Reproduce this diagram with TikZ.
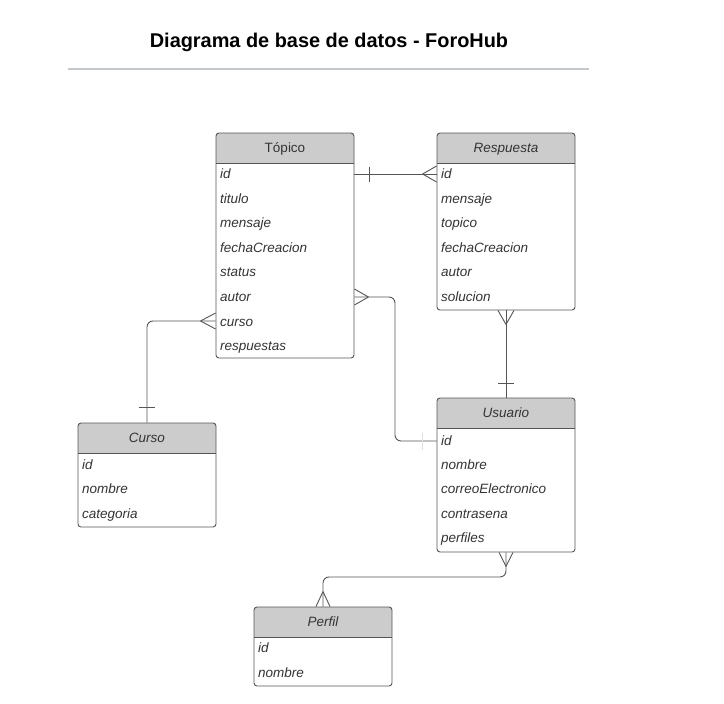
\documentclass[tikz,border=0pt]{standalone}
\usepackage{fontspec}
\setmainfont{Liberation Sans}
\usetikzlibrary{fit}
\definecolor{hdrgray}{HTML}{CCCCCC}
\definecolor{boxgray}{HTML}{555555}
\definecolor{txtgray}{HTML}{333333}
\definecolor{rulegray}{HTML}{C4C8CC}
\tikzset{
  tbox/.style={draw=boxgray, line width=0.9pt, rounded corners=3pt, inner sep=0pt},
  sepline/.style={draw=boxgray, line width=0.9pt},
  ttext/.style={font=\fontsize{13.5}{16}\selectfont\itshape, text=txtgray, inner sep=0pt, anchor=base},
  ttextup/.style={font=\fontsize{13.5}{16}\selectfont, text=txtgray, inner sep=0pt, anchor=base},
  rowtext/.style={font=\fontsize{13.5}{16}\selectfont\itshape, text=txtgray, anchor=base west, inner sep=0pt},
  conn/.style={draw=boxgray, line width=0.9pt},
  faint/.style={draw=gray!25, line width=0.9pt},
}
\newcommand\ertab[6]{%
  \begin{scope}
    \clip (#2,#3) rectangle (#4,#6);
    \fill[hdrgray, rounded corners=3pt] (#2,#3) rectangle (#4,#5);
  \end{scope}
  \draw[sepline] (#2,#6) -- (#4,#6);
  \node[tbox, fit={(#2,#3) (#4,#5)}] (#1) {};
}
\begin{document}
\begin{tikzpicture}[x=1pt,y=-1pt]
\useasboundingbox (0,0) rectangle (724,704);

% title
\node[font=\fontsize{19.9}{24}\selectfont\bfseries, text=black, inner sep=0pt, anchor=base] (title) at (329,47.5) {Diagrama de base de datos - ForoHub};
\coordinate (ruleL) at (68,69);
\coordinate (ruleR) at (589,69);
\draw[rulegray, line width=1.2pt] (ruleL) -- (ruleR);

% Topico
\ertab{topico}{216}{133}{354}{358}{163}
\node[ttextup] (topico-t) at (285,152) {Tópico};
\node[rowtext] (t-id) at (220,178) {id};
\node[rowtext] (t-titulo) at (220,203) {titulo};
\node[rowtext] (t-mensaje) at (220,227) {mensaje};
\node[rowtext] (t-fecha) at (220,252) {fechaCreacion};
\node[rowtext] (t-status) at (220,276) {status};
\node[rowtext] (t-autor) at (220,301) {autor};
\node[rowtext] (t-curso) at (220,326) {curso};
\node[rowtext] (t-resp) at (220,350) {respuestas};

% Respuesta
\ertab{resp}{437}{133}{575}{310}{163}
\node[ttext] (resp-t) at (506,152) {Respuesta};
\node[rowtext] (r-id) at (441,178) {id};
\node[rowtext] (r-mensaje) at (441,203) {mensaje};
\node[rowtext] (r-topico) at (441,227) {topico};
\node[rowtext] (r-fecha) at (441,252) {fechaCreacion};
\node[rowtext] (r-autor) at (441,276) {autor};
\node[rowtext] (r-sol) at (441,301) {solucion};

% Usuario
\ertab{usuario}{437}{398}{575}{552}{428}
\node[ttext] (usuario-t) at (506,417) {Usuario};
\node[rowtext] (u-id) at (441,445) {id};
\node[rowtext] (u-nombre) at (441,469) {nombre};
\node[rowtext] (u-correo) at (441,493) {correoElectronico};
\node[rowtext] (u-contra) at (441,518) {contrasena};
\node[rowtext] (u-perfiles) at (441,542) {perfiles};

% Curso
\ertab{curso}{78}{423}{216}{527}{453}
\node[ttext] (curso-t) at (147,442) {Curso};
\node[rowtext] (c-id) at (82,469) {id};
\node[rowtext] (c-nombre) at (82,493) {nombre};
\node[rowtext] (c-cat) at (82,518) {categoria};

% Perfil
\ertab{perfil}{254}{607}{392}{686}{637}
\node[ttext] (perfil-t) at (323,626) {Perfil};
\node[rowtext] (p-id) at (258,652) {id};
\node[rowtext] (p-nombre) at (258,677) {nombre};

% C1: Topico.id -- Respuesta.id
\coordinate (c1a) at (topico.east |- 0,174);
\coordinate (c1b) at (resp.west |- 0,174);
\draw[conn] (c1a) -- (c1b);
\draw[conn] (369,166.5) -- (369,181.5);
\draw[conn] (c1b) ++(-14,0) -- ++(14,-8);
\draw[conn] (c1b) ++(-14,0) -- ++(14,8);

% C2: Topico.autor -- Usuario.id
\coordinate (c2a) at (topico.east |- 0,297);
\coordinate (c2b) at (usuario.west |- 0,441);
\draw[conn, rounded corners=6pt] (c2a) -- (395,297) -- (395,441) -- (c2b);
\draw[conn] (c2a) ++(14,0) -- ++(-14,-8);
\draw[conn] (c2a) ++(14,0) -- ++(-14,8);
\draw[faint] (422,433) -- (422,450);

% C3: Topico.curso -- Curso
\coordinate (c3a) at (topico.west |- 0,321);
\coordinate (c3b) at (curso.north);
\draw[conn, rounded corners=6pt] (c3a) -- (147,321) -- (c3b);
\draw[conn] (c3a) ++(-15,0) -- ++(15,-8);
\draw[conn] (c3a) ++(-15,0) -- ++(15,8);
\draw[conn] (139,407) -- (155,407);

% C4: Respuesta -- Usuario
\coordinate (c4a) at (resp.south);
\coordinate (c4b) at (usuario.north);
\draw[conn] (c4a) -- (c4b);
\draw[conn] (c4a) ++(0,14) -- ++(-8,-14);
\draw[conn] (c4a) ++(0,14) -- ++(8,-14);
\draw[conn] (498,383) -- (514,383);

% C5: Usuario -- Perfil
\coordinate (c5a) at (usuario.south);
\coordinate (c5b) at (perfil.north);
\draw[conn, rounded corners=6pt] (c5a) -- (506,577) -- (323,577) -- (c5b);
\draw[conn] (c5a) ++(0,14) -- ++(-7,-14);
\draw[conn] (c5a) ++(0,14) -- ++(7,-14);
\draw[conn] (c5b) ++(0,-15) -- ++(-7,15);
\draw[conn] (c5b) ++(0,-15) -- ++(7,15);
\end{tikzpicture}
\end{document}
